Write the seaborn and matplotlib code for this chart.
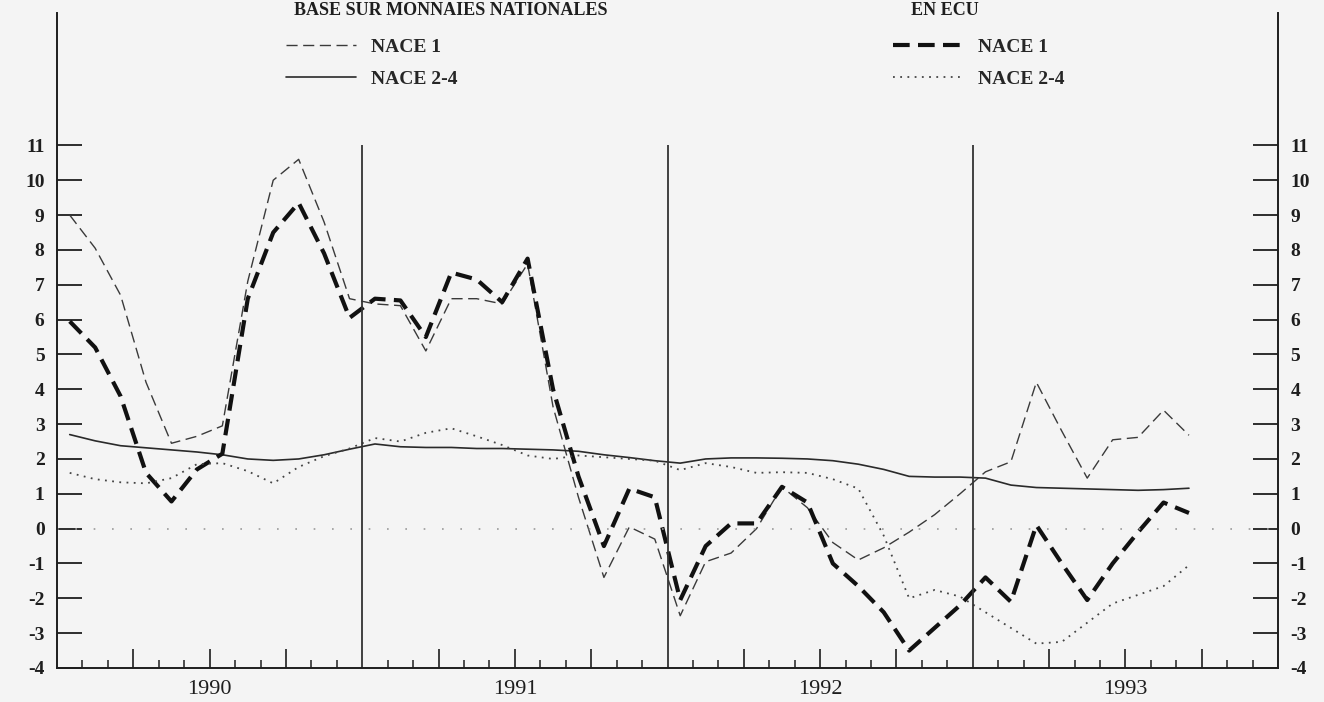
import numpy as np
import seaborn as sns
import matplotlib.pyplot as plt
from matplotlib.ticker import FixedLocator

# monthly points, Jan 1990 .. Sep 1993 (x = months since Jan 1990, mid-month)
months = np.arange(45) + 0.5

# growth rates based on national currencies
nace1_nat = [9.0, 8.05, 6.7, 4.2, 2.45, 2.65, 2.95, 7.1, 10.0, 10.6,
             8.8, 6.6, 6.45, 6.4, 5.1, 6.6, 6.6, 6.45, 7.6, 3.5,
             0.9, -1.4, 0.05, -0.3, -2.5, -0.95, -0.7, 0.0, 1.2, 0.6,
             -0.4, -0.9, -0.55, -0.1, 0.4, 1.0, 1.63, 1.92, 4.2, 2.8,
             1.45, 2.55, 2.62, 3.4, 2.68]
nace24_nat = [2.7, 2.52, 2.38, 2.32, 2.26, 2.2, 2.12, 2.0, 1.96, 2.0,
              2.12, 2.28, 2.43, 2.35, 2.33, 2.33, 2.3, 2.3, 2.28, 2.26,
              2.22, 2.12, 2.04, 1.95, 1.88, 2.0, 2.03, 2.03, 2.02, 2.0,
              1.95, 1.85, 1.7, 1.5, 1.48, 1.48, 1.45, 1.25, 1.18, 1.16,
              1.14, 1.12, 1.1, 1.12, 1.16]

# growth rates in ECU
nace1_ecu = [5.95, 5.2, 3.8, 1.6, 0.78, 1.7, 2.15, 6.6, 8.5, 9.35,
             7.9, 6.05, 6.6, 6.55, 5.5, 7.35, 7.15, 6.5, 7.75, 4.0,
             1.5, -0.5, 1.15, 0.9, -2.05, -0.5, 0.15, 0.15, 1.2, 0.75,
             -1.0, -1.65, -2.4, -3.5, -2.85, -2.2, -1.4, -2.1, 0.1, -1.0,
             -2.05, -1.0, -0.1, 0.75, 0.45]
nace24_ecu = [1.6, 1.42, 1.33, 1.3, 1.45, 1.85, 1.88, 1.65, 1.3, 1.77,
              2.08, 2.3, 2.6, 2.5, 2.75, 2.88, 2.65, 2.4, 2.1, 2.0,
              2.1, 2.05, 2.0, 1.95, 1.68, 1.88, 1.77, 1.6, 1.62, 1.6,
              1.42, 1.15, -0.2, -2.0, -1.76, -1.95, -2.4, -2.85, -3.3, -3.25,
              -2.7, -2.15, -1.9, -1.65, -1.05]

years = ['1990', '1991', '1992', '1993']
year_breaks = [12, 24, 36]
series_labels = ['NACE 1', 'NACE 2-4']

sns.set_theme(style='white')
plt.rcParams['font.family'] = ['Liberation Serif', 'DejaVu Serif']

bg = '#f4f4f4'
ink = '#1e1e1e'

fig = plt.figure(figsize=(13.24, 7.02), dpi=100, facecolor=bg)
ax = fig.add_axes([57 / 1324, 34 / 702, 1221 / 1324, 655 / 702])
ax.set_facecolor(bg)

sns.lineplot(x=months, y=nace1_nat, ax=ax, color='#3a3a3a', lw=1.0,
             linestyle=(0, (8, 4)))
sns.lineplot(x=months, y=nace24_nat, ax=ax, color='#2a2a2a', lw=1.2,
             linestyle='-')
sns.lineplot(x=months, y=nace1_ecu, ax=ax, color='#111111', lw=3.0,
             linestyle=(0, (4, 2)))
sns.lineplot(x=months, y=nace24_ecu, ax=ax, color='#444444', lw=1.3,
             linestyle=(0, (1, 3)))
h = list(ax.lines)

ax.axhline(0, color='#9a9a9a', lw=1.2, linestyle=(0, (1, 10)))
ax.vlines(year_breaks, -4, 11, color='#333333', lw=1.3)

ax.set_xlim(0, 48)
ax.set_ylim(-4, 14.8)
ax.set_yticks(range(-4, 12))
ax.set_yticklabels([str(v) for v in range(-4, 12)])

quarters = [m for m in range(3, 48, 3) if m % 12 != 0]
ax.xaxis.set_major_locator(FixedLocator(quarters))
ax.set_xticklabels([years[(m - 6) // 12] if m % 12 == 6 else '' for m in quarters])
ax.xaxis.set_minor_locator(FixedLocator([m for m in range(1, 48) if m % 3 != 0]))

ax.tick_params(axis='y', direction='in', length=18, width=1.3, colors=ink,
               left=True, right=True, labelleft=True, labelright=True,
               pad=9, labelsize=14)
for lab in ax.get_yticklabels():
    lab.set_fontweight('bold')
ax.tick_params(axis='x', which='major', direction='in', length=14, width=1.2,
               colors=ink, bottom=True, pad=9, labelsize=16)
ax.tick_params(axis='x', which='minor', direction='in', length=6, width=1.1,
               colors=ink, bottom=True)

ax.spines['top'].set_visible(False)
for s in ['left', 'right', 'bottom']:
    ax.spines[s].set_color(ink)
    ax.spines[s].set_linewidth(1.4)

leg_kw = dict(frameon=False, handlelength=3.6, handletextpad=0.75,
              labelspacing=0.75, borderpad=0, borderaxespad=0, loc='upper left')
fig.legend(h[:2], series_labels, bbox_to_anchor=(286 / 1324, 1 - 38 / 702),
           prop={'weight': 'bold', 'size': 14}, **leg_kw)
fig.legend(h[2:], series_labels, bbox_to_anchor=(893 / 1324, 1 - 38 / 702),
           prop={'weight': 'bold', 'size': 14}, **leg_kw)

# panel titles along the top edge
fig.text(451 / 1324, 1 - 2 / 702, 'BASE SUR MONNAIES NATIONALES', ha='center', va='top',
         fontsize=13, fontweight='bold', color=ink)
fig.text(945 / 1324, 1 - 2 / 702, 'EN ECU', ha='center', va='top',
         fontsize=13, fontweight='bold', color=ink)

fig.savefig('out.png', dpi=100, facecolor=bg)
